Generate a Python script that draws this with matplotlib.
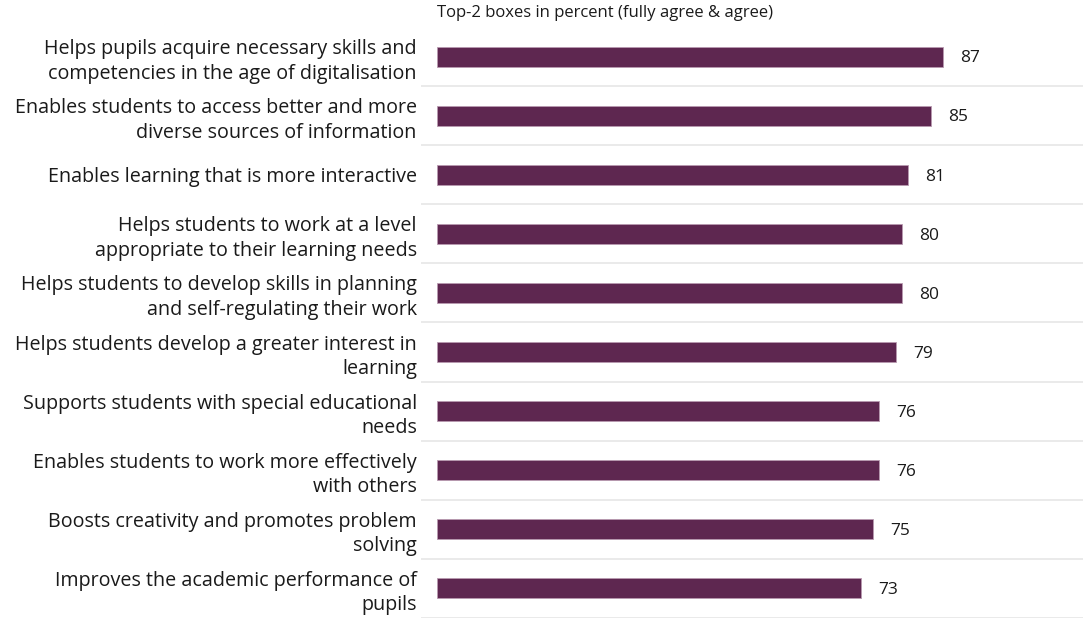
import matplotlib.pyplot as plt

# Statements, top to bottom, and share of teachers agreeing (top-2 boxes)
statements = [
    "Helps pupils acquire necessary skills and\ncompetencies in the age of digitalisation",
    "Enables students to access better and more\ndiverse sources of information",
    "Enables learning that is more interactive",
    "Helps students to work at a level\nappropriate to their learning needs",
    "Helps students to develop skills in planning\nand self-regulating their work",
    "Helps students develop a greater interest in\nlearning",
    "Supports students with special educational\nneeds",
    "Enables students to work more effectively\nwith others",
    "Boosts creativity and promotes problem\nsolving",
    "Improves the academic performance of\npupils",
]
top2_share = [87, 85, 81, 80, 80, 79, 76, 76, 75, 73]

BAR_COLOR = "#5E2750"
TEXT_COLOR = "#1a1a1a"
plt.rcParams["font.family"] = ["Open Sans", "DejaVu Sans"]

fig = plt.figure(figsize=(10.83, 6.19), dpi=100)
ax = fig.add_axes([421 / 1083, 1 - 618 / 619, (1083 - 421) / 1083, (618 - 27) / 619])

n = len(statements)
ypos = list(range(n))
ax.barh(ypos, top2_share, height=0.34, color=BAR_COLOR, edgecolor="#b89ab0", linewidth=0.6)

for y, v in zip(ypos, top2_share):
    ax.text(v + 2.9, y + 0.03, f"{v}", va="center", ha="left", fontsize=12.5, color=TEXT_COLOR)

# light separators between rows
for y in range(n):
    ax.axhline(y + 0.5, color="#e6e6e6", linewidth=1.2, zorder=0)

ax.set_ylim(n - 0.5, -0.5)
ax.set_xlim(-2.75, 111.1)
ax.set_yticks(ypos)
ax.set_yticklabels(statements, fontsize=14.2, color=TEXT_COLOR, linespacing=1.3)
ax.tick_params(axis="y", length=0, pad=3)
ax.set_xticks([])
for s in ax.spines.values():
    s.set_visible(False)

fig.text(437 / 1083, 1 - 13 / 619, "Top-2 boxes in percent (fully agree & agree)",
         ha="left", va="center", fontsize=12, color=TEXT_COLOR)

fig.savefig("out.png", dpi=100)
